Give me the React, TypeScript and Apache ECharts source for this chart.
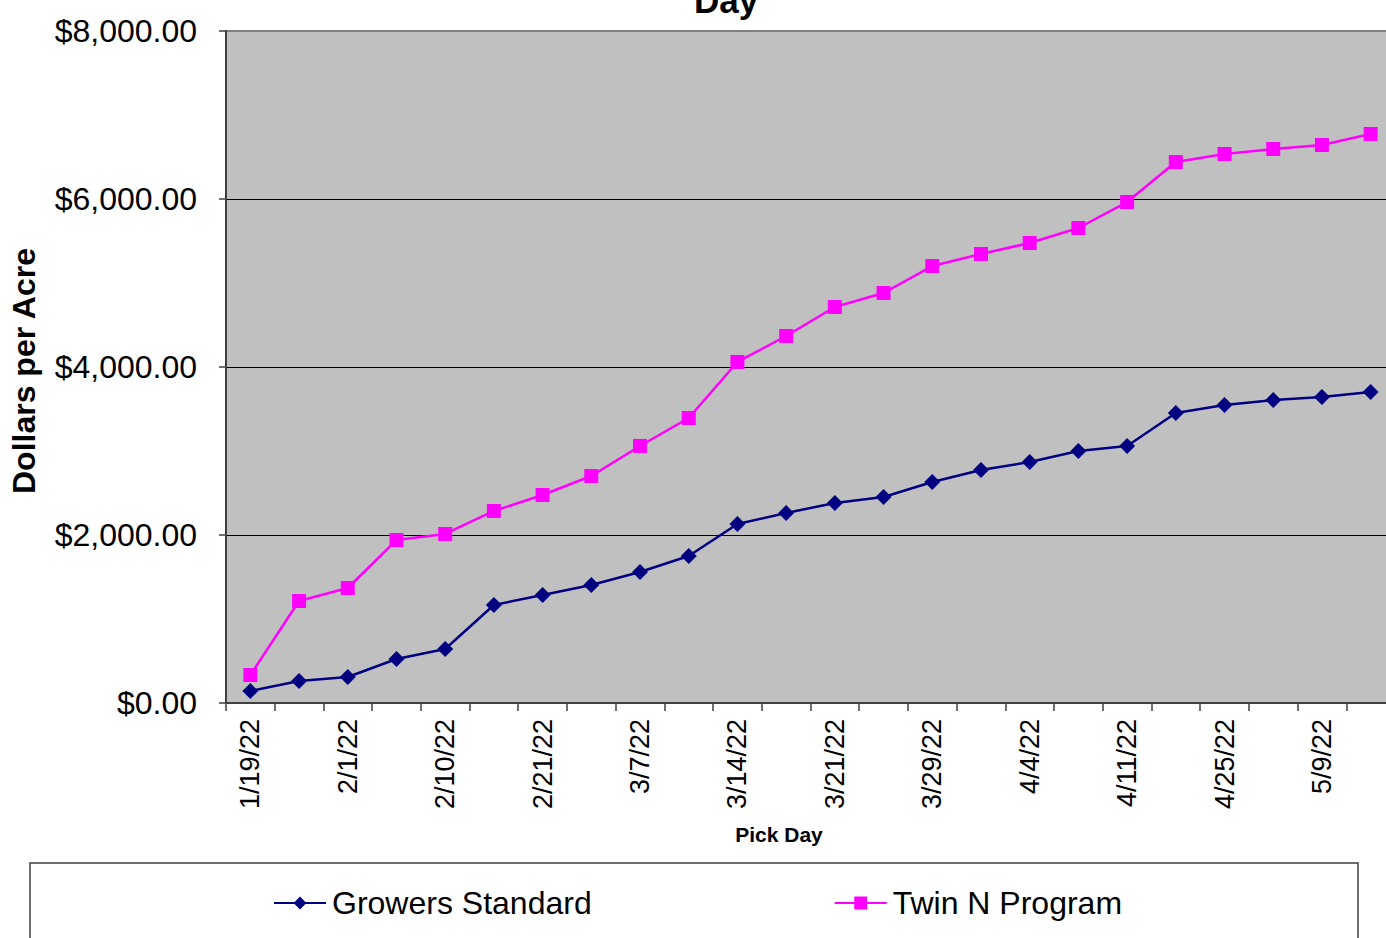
import React, { useEffect, useRef } from "react";
import * as echarts from "echarts";

const categories = [
  "1/19/22", "1/25/22", "2/1/22", "2/7/22", "2/10/22", "2/14/22",
  "2/21/22", "2/28/22", "3/7/22", "3/10/22", "3/14/22", "3/17/22",
  "3/21/22", "3/24/22", "3/29/22", "3/31/22", "4/4/22", "4/7/22",
  "4/11/22", "4/18/22", "4/25/22", "5/2/22", "5/9/22", "5/16/22",
];

const growersStandard = [
  143, 262, 310, 524, 643, 1167, 1286, 1405, 1560, 1750, 2131, 2262,
  2381, 2452, 2631, 2774, 2869, 3000, 3060, 3452, 3548, 3607, 3643, 3702,
];

const twinNProgram = [
  333, 1214, 1369, 1940, 2012, 2286, 2476, 2702, 3060, 3393, 4060, 4369,
  4714, 4881, 5202, 5345, 5476, 5655, 5964, 6440, 6536, 6595, 6643, 6774,
];

const FONT = "'Liberation Sans', Arial, sans-serif";

export default function App() {
  const ref = useRef<HTMLDivElement>(null);
  useEffect(() => {
    if (!ref.current) return;
    const chart = echarts.init(ref.current, null, { renderer: "svg" });
    chart.setOption({
      animation: false,
      backgroundColor: "#ffffff",
      textStyle: { fontFamily: FONT },
      grid: {
        left: 225,
        top: 31,
        right: 0,
        bottom: 235,
        show: true,
        backgroundColor: "#c0c0c0",
        borderColor: "#808080",
        borderWidth: 2,
      },
      legend: {
        left: 268,
        top: 882,
        itemGap: 242,
        itemWidth: 52,
        itemHeight: 16,
        textStyle: { fontSize: 32, color: "#000", fontFamily: FONT, padding: [0, 0, 0, 1] },
        data: ["Growers Standard", "Twin N Program"],
      },
      xAxis: {
        type: "category",
        data: categories,
        boundaryGap: true,
        axisLine: { lineStyle: { color: "#404040", width: 2 } },
        axisTick: { show: true, length: 8, interval: 0, lineStyle: { color: "#404040", width: 1.5 } },
        axisLabel: {
          interval: 1,
          rotate: 90,
          fontSize: 27,
          color: "#000",
          margin: 16,
          fontFamily: FONT,
        },
      },
      yAxis: {
        type: "value",
        min: 0,
        max: 8000,
        interval: 2000,
        name: "Dollars per Acre",
        nameLocation: "middle",
        nameGap: 186,
        nameTextStyle: {
          fontSize: 32,
          fontWeight: "bold",
          color: "#000",
          fontFamily: FONT,
          padding: [0, 8, 0, 0],
        },
        axisLine: { show: true, lineStyle: { color: "#404040", width: 2 } },
        axisTick: { show: true, length: 7, lineStyle: { color: "#404040", width: 1.5 } },
        axisLabel: {
          fontSize: 32,
          color: "#000",
          margin: 29,
          fontFamily: FONT,
          formatter: (v: number) =>
            "$" + v.toLocaleString("en-US", { minimumFractionDigits: 2, maximumFractionDigits: 2 }),
        },
        splitLine: { show: true, showMaxLine: false, showMinLine: false, lineStyle: { color: "#000", width: 1 } },
      },
      graphic: [
        {
          type: "text",
          x: 726,
          y: 0,
          style: {
            text: "Day",
            font: `bold 35px ${FONT}`,
            fill: "#000",
            textAlign: "center",
            textVerticalAlign: "middle",
          },
        },
        {
          type: "text",
          x: 779,
          y: 834,
          style: {
            text: "Pick Day",
            font: `bold 21px ${FONT}`,
            fill: "#000",
            textAlign: "center",
            textVerticalAlign: "middle",
          },
        },
        {
          type: "rect",
          shape: { x: 30, y: 863, width: 1328, height: 120 },
          style: { fill: "none", stroke: "#404040", lineWidth: 1.5 },
          z: -1,
        },
      ],
      series: [
        {
          name: "Growers Standard",
          type: "line",
          data: growersStandard,
          symbol: "diamond",
          symbolSize: 16,
          color: "#000080",
          lineStyle: { color: "#000080", width: 2.5 },
          itemStyle: { color: "#000080" },
        },
        {
          name: "Twin N Program",
          type: "line",
          data: twinNProgram,
          symbol: "rect",
          symbolSize: 14,
          color: "#ff00ff",
          lineStyle: { color: "#ff00ff", width: 2.5 },
          itemStyle: { color: "#ff00ff" },
        },
      ],
    });
    return () => chart.dispose();
  }, []);
  return (
    <div
      ref={ref}
      style={{ position: "fixed", left: 0, top: 0, width: 1395, height: 938 }}
    />
  );
}
